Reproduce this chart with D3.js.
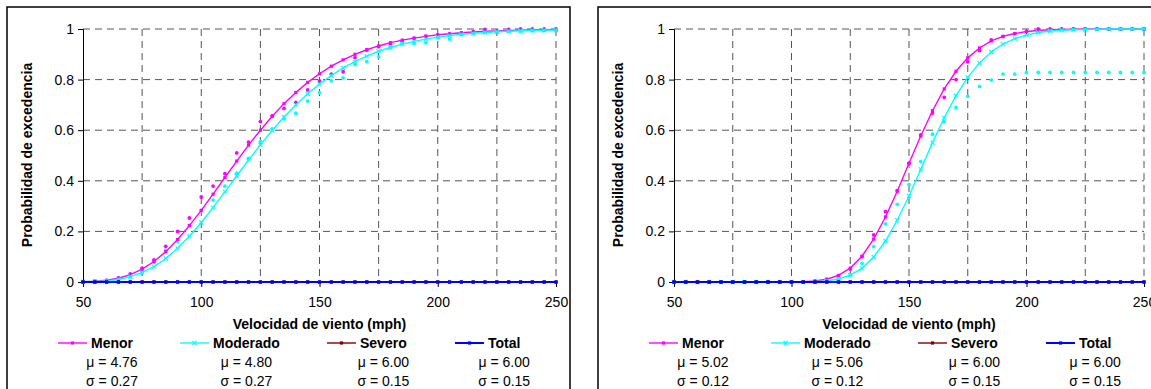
<!DOCTYPE html>
<html>
<head>
<meta charset="utf-8">
<script src="https://cdn.jsdelivr.net/npm/d3@7"></script>
<style>
  body { margin: 0; background: #fff; }
  text { font-family: Arial, "Liberation Sans", sans-serif; fill: #000; }
</style>
</head>
<body>
<svg id="chart" width="1151" height="389"></svg>
<script>
// wind speed (mph) of every point
const speeds = [50,55,60,65,70,75,80,85,90,95,100,105,110,115,120,125,130,135,140,145,
  150,155,160,165,170,175,180,185,190,195,200,205,210,215,220,225,230,235,240,245,250];

// left panel: fitted curves and observed points
const leftMenorFit = [0.001,0.003,0.007,0.015,0.029,0.051,0.081,0.120,0.168,0.223,
  0.283,0.347,0.413,0.478,0.541,0.600,0.655,0.705,0.749,0.789,
  0.823,0.853,0.878,0.900,0.918,0.933,0.946,0.956,0.964,0.971,
  0.977,0.981,0.985,0.988,0.991,0.992,0.994,0.995,0.996,0.997,0.998];
const leftModeradoFit = [0.001,0.002,0.004,0.010,0.021,0.037,0.061,0.093,0.133,0.181,
  0.235,0.294,0.356,0.419,0.482,0.542,0.599,0.652,0.700,0.744,
  0.782,0.816,0.846,0.871,0.893,0.912,0.927,0.940,0.951,0.960,
  0.968,0.974,0.979,0.983,0.986,0.989,0.991,0.993,0.994,0.995,0.996];
const leftMenorObs = [0,0.002,0.005,0.016,0.032,0.055,0.087,0.141,0.200,0.253,
  0.336,0.379,0.428,0.510,0.553,0.634,0.657,0.686,0.710,0.759,
  0.795,0.822,0.831,0.887,0.917,0.930,0.940,0.953,0.963,0.972,
  0.976,0.980,0.985,0.990,0.998,0.990,0.998,1,1,1,1];
const leftModeradoObs = [0,0.001,0.003,0.010,0.020,0.041,0.079,0.126,0.160,0.224,
  0.283,0.324,0.379,0.430,0.489,0.555,0.605,0.645,0.667,0.715,
  0.748,0.795,0.807,0.860,0.871,0.890,0.930,0.943,0.943,0.946,
  0.967,0.960,0.979,0.984,0.987,0.990,0.992,0.992,0.995,0.995,0.995];

// right panel
const rightMenorFit = [0,0,0,0,0,0,0,0,0,0,
  0,0.001,0.004,0.011,0.026,0.055,0.102,0.170,0.257,0.359,
  0.469,0.577,0.677,0.763,0.833,0.886,0.925,0.953,0.971,0.982,
  0.990,0.994,0.997,0.998,0.999,1,1,1,1,1,1];
const rightModeradoFit = [0,0,0,0,0,0,0,0,0,0,
  0,0,0.001,0.004,0.012,0.027,0.054,0.099,0.162,0.244,
  0.340,0.445,0.551,0.649,0.736,0.809,0.866,0.909,0.940,0.962,
  0.976,0.986,0.992,0.995,0.997,0.998,0.999,1,1,1,1];
const rightMenorObs = [0,0,0,0,0,0,0,0,0,0,
  0,0,0.003,0.010,0.025,0.051,0.100,0.186,0.278,0.361,
  0.469,0.581,0.668,0.730,0.800,0.871,0.915,0.957,0.970,0.982,
  0.990,1,1,1,1,1,1,1,1,1,1];
const rightModeradoObs = [0,0,0,0,0,0,0,0,0,0,
  0,0,0,0.001,0.008,0.028,0.074,0.140,0.230,0.307,
  0.385,0.476,0.584,0.634,0.690,0.734,0.773,0.798,0.822,0.822,
  0.828,0.828,0.828,0.828,0.828,0.828,0.828,0.828,0.828,0.828,0.828];

// Severo and Total stay at zero over the whole range (both panels)
const severoFit = [0,0,0,0,0,0,0,0,0,0,0,0,0,0,0,0,0,0,0,0,0,
  0,0,0,0,0,0,0,0,0,0,0,0,0,0,0,0,0,0,0,0];
const totalFit = [0,0,0,0,0,0,0,0,0,0,0,0,0,0,0,0,0,0,0,0,0,
  0,0,0,0,0,0,0,0,0,0,0,0,0,0,0,0,0,0,0,0];

// legend
const seriesNames = ["Menor", "Moderado", "Severo", "Total"];
const seriesColors = ["#ff00ff", "#00ffff", "#800000", "#0000ff"];
const leftMu = ["4.76", "4.80", "6.00", "6.00"];
const leftSigma = ["0.27", "0.27", "0.15", "0.15"];
const rightMu = ["5.02", "5.06", "6.00", "6.00"];
const rightSigma = ["0.12", "0.12", "0.15", "0.15"];

const xTicks = [50, 100, 150, 200, 250];
const xGrid = [75, 100, 125, 150, 175, 200, 225, 250];
const yTicks = [0, 0.2, 0.4, 0.6, 0.8, 1];

const svg = d3.select("#chart");

const panels = [
  { box: [7, 7, 563, 400], x0: 83, x1: 556,
    fits: [leftMenorFit, leftModeradoFit, severoFit, totalFit],
    obs: [leftMenorObs, leftModeradoObs], mu: leftMu, sigma: leftSigma },
  { box: [598, 7, 600, 400], x0: 674, x1: 1144,
    fits: [rightMenorFit, rightModeradoFit, severoFit, totalFit],
    obs: [rightMenorObs, rightModeradoObs], mu: rightMu, sigma: rightSigma }
];

function drawPanel(p) {
  const g = svg.append("g");
  g.append("rect")
    .attr("x", p.box[0]).attr("y", p.box[1])
    .attr("width", p.box[2]).attr("height", p.box[3])
    .attr("fill", "#fff").attr("stroke", "#000").attr("stroke-width", 1.5);

  const x = d3.scaleLinear().domain([50, 250]).range([p.x0, p.x1]);
  const y = d3.scaleLinear().domain([0, 1]).range([282, 29]);

  // dashed grid
  g.selectAll("line.hg").data(yTicks.filter(d => d > 0)).join("line")
    .attr("x1", p.x0).attr("x2", p.x1)
    .attr("y1", d => y(d)).attr("y2", d => y(d))
    .attr("stroke", "#555").attr("stroke-dasharray", "7,5");
  g.selectAll("line.vg").data(xGrid).join("line")
    .attr("x1", d => x(d)).attr("x2", d => x(d))
    .attr("y1", y(1)).attr("y2", y(0))
    .attr("stroke", "#555").attr("stroke-dasharray", "7,5");

  // axes
  const ya = g.append("g").attr("transform", `translate(${p.x0},0)`)
    .call(d3.axisLeft(y).tickValues(yTicks).tickSize(5).tickPadding(4)
      .tickFormat(d => d === 0 || d === 1 ? String(d) : d3.format(".1f")(d)));
  const xa = g.append("g").attr("transform", `translate(0,${y(0)})`)
    .call(d3.axisBottom(x).tickValues(xTicks).tickSize(5).tickPadding(10));
  [ya, xa].forEach(a => {
    a.select(".domain").attr("stroke", "#000");
    a.selectAll(".tick line").attr("stroke", "#000");
    a.selectAll(".tick text").style("font-size", "14px").attr("fill", "#000");
  });
  xa.select(".domain").attr("d", `M${p.x0},0H${p.x1}`);

  g.append("text")
    .attr("x", (p.x0 + p.x1) / 2).attr("y", 329)
    .attr("text-anchor", "middle")
    .style("font-size", "14px").style("font-weight", "bold")
    .text("Velocidad de viento (mph)");
  g.append("text")
    .attr("transform", `translate(${p.x0 - 51},155) rotate(-90)`)
    .attr("text-anchor", "middle")
    .style("font-size", "14px").style("font-weight", "bold")
    .text("Probabilidad de excedencia");

  const line = d3.line().x((d, i) => x(speeds[i])).y(d => y(d));

  // observed points
  p.obs.forEach((arr, k) => {
    g.append("g").selectAll("circle").data(arr).join("circle")
      .attr("cx", (d, i) => x(speeds[i])).attr("cy", d => y(d))
      .attr("r", 1.9).attr("fill", seriesColors[k]);
  });

  // fitted curves with markers
  p.fits.forEach((arr, k) => {
    g.append("path").datum(arr)
      .attr("d", line).attr("fill", "none")
      .attr("stroke", seriesColors[k]).attr("stroke-width", k === 3 ? 2 : 1.4);
    drawMarkers(g, arr.map((d, i) => [x(speeds[i]), y(d)]), k);
  });

  // legend
  const offs = [-25, 97, 244, 372];
  seriesNames.forEach((name, k) => {
    const lx = p.x0 + offs[k];
    g.append("line")
      .attr("x1", lx).attr("x2", lx + 29).attr("y1", 343).attr("y2", 343)
      .attr("stroke", seriesColors[k]).attr("stroke-width", k === 3 ? 2 : 1.4);
    drawMarkers(g, [[lx + 14.5, 343]], k);
    const t = g.append("text")
      .attr("x", lx + 33).attr("y", 348)
      .style("font-size", "14px").style("font-weight", "bold")
      .text(name);
    const cx = lx + 33 + t.node().getComputedTextLength() / 2;
    g.append("text").attr("x", cx).attr("y", 367).attr("text-anchor", "middle")
      .style("font-size", "14px").text("\u03bc = " + p.mu[k]);
    g.append("text").attr("x", cx).attr("y", 386).attr("text-anchor", "middle")
      .style("font-size", "14px").text("\u03c3 = " + p.sigma[k]);
  });
}

function drawMarkers(g, pts, k) {
  const c = seriesColors[k];
  if (k === 1) {
    g.append("g").selectAll("path").data(pts).join("path")
      .attr("d", d => `M${d[0] - 2},${d[1] - 2}L${d[0] + 2},${d[1] + 2}M${d[0] - 2},${d[1] + 2}L${d[0] + 2},${d[1] - 2}`)
      .attr("stroke", c).attr("stroke-width", 1.2);
  } else {
    g.append("g").selectAll("rect").data(pts).join("rect")
      .attr("x", d => d[0] - 1.6).attr("y", d => d[1] - 1.6)
      .attr("width", 3.2).attr("height", 3.2).attr("fill", c);
  }
}

panels.forEach(drawPanel);
</script>
</body>
</html>
